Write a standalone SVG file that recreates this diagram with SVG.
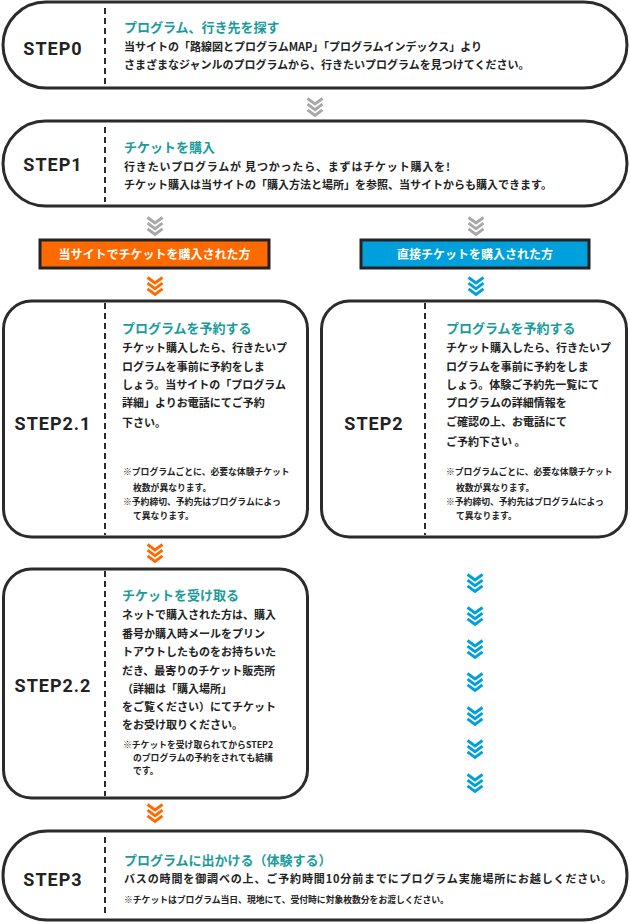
<svg xmlns="http://www.w3.org/2000/svg" xmlns:xlink="http://www.w3.org/1999/xlink" width="630" height="923" viewBox="0 0 630 923">
<style>
.box{fill:#fff;stroke:#2b2b2b;stroke-width:3}
.dash{stroke:#2b2b2b;stroke-width:2;stroke-dasharray:6 4;fill:none}
.step{font-family:Roboto,"Noto Sans",sans-serif;font-weight:700;font-size:18px;letter-spacing:1px;fill:#222;text-anchor:middle}
.ttl{font-family:"Noto Sans CJK JP",sans-serif;font-weight:700;font-size:13px;fill:#1a9b9b}
.txt{font-family:"Noto Sans CJK JP",sans-serif;font-weight:700;font-size:11px;fill:#222}
.note{font-family:"Noto Sans CJK JP",sans-serif;font-weight:700;font-size:8.8px;fill:#222}
.lbl{font-family:"Noto Sans CJK JP",sans-serif;font-weight:700;font-size:12px;fill:#fff;text-anchor:middle}
.tag{stroke:#222;stroke-width:3}
</style>
<defs>
<symbol id="chev" viewBox="0 0 16 20" overflow="visible">
<g fill="none" stroke="currentColor" stroke-width="2.9" stroke-linejoin="miter">
<polyline points="0.5,1.5 8,7 15.5,1.5"/>
<polyline points="0.5,7.2 8,12.7 15.5,7.2"/>
<polyline points="0.5,12.9 8,18.4 15.5,12.9"/>
</g>
</symbol>
</defs>

<g id="step0">
<rect class="box" x="3" y="2" width="624" height="86" rx="43"/>
<line class="dash" x1="105" y1="8" x2="105" y2="84"/>
<text class="step" x="53" y="55">STEP0</text>
<text class="ttl" x="124" y="32">プログラム、行き先を探す</text>
<text class="txt" x="124" y="51">当サイトの「路線図とプログラムMAP」「プログラムインデックス」より</text>
<text class="txt" x="124" y="69">さまざまなジャンルのプログラムから、行きたいプログラムを見つけてください。</text>
</g>

<g id="step1">
<rect class="box" x="3" y="121" width="624" height="85" rx="42.5"/>
<line class="dash" x1="105" y1="127" x2="105" y2="202"/>
<text class="step" x="53" y="171">STEP1</text>
<text class="ttl" x="124" y="152">チケットを購入</text>
<text class="txt" x="124" y="171" textLength="326" lengthAdjust="spacing">行きたいプログラムが 見つかったら、まずはチケット購入を!</text>
<text class="txt" x="124" y="189">チケット購入は当サイトの「購入方法と場所」を参照、当サイトからも購入できます。</text>
</g>

<g id="label-site">
<rect class="tag" x="40" y="240" width="229" height="28" fill="#ff6a00"/>
<text class="lbl" x="154.5" y="258.5">当サイトでチケットを購入された方</text>
</g>

<g id="label-direct">
<rect class="tag" x="361" y="240" width="228" height="28" fill="#00a0dc"/>
<text class="lbl" x="475" y="258.5">直接チケットを購入された方</text>
</g>

<g id="step2-1">
<rect class="box" x="3.5" y="301" width="304" height="236" rx="28"/>
<line class="dash" x1="105" y1="303" x2="105" y2="535"/>
<text class="step" x="53" y="429.5">STEP2.1</text>
<text class="ttl" x="122" y="333">プログラムを予約する</text>
<text class="txt" x="122" y="352">チケット購入したら、行きたいプ</text>
<text class="txt" x="122" y="371">ログラムを事前に予約をしま</text>
<text class="txt" x="122" y="389">しょう。当サイトの「プログラム</text>
<text class="txt" x="122" y="407">詳細」よりお電話にてご予約</text>
<text class="txt" x="122" y="427">下さい。</text>
<text class="note" x="123" y="475">※プログラムごとに、必要な体験チケット</text>
<text class="note" x="133" y="491">枚数が異なります。</text>
<text class="note" x="123" y="505">※予約締切、予約先はプログラムによっ</text>
<text class="note" x="133" y="519">て異なります。</text>
</g>

<g id="step2">
<rect class="box" x="321.5" y="301" width="305" height="236" rx="28"/>
<line class="dash" x1="425" y1="303" x2="425" y2="535"/>
<text class="step" x="374" y="429.5">STEP2</text>
<text class="ttl" x="446" y="333">プログラムを予約する</text>
<text class="txt" x="446" y="352">チケット購入したら、行きたいプ</text>
<text class="txt" x="446" y="371">ログラムを事前に予約をしま</text>
<text class="txt" x="446" y="389">しょう。体験ご予約先一覧にて</text>
<text class="txt" x="446" y="407">プログラムの詳細情報を</text>
<text class="txt" x="446" y="426">ご確認の上、お電話にて</text>
<text class="txt" x="446" y="446">ご予約下さい 。</text>
<text class="note" x="446" y="475">※プログラムごとに、必要な体験チケット</text>
<text class="note" x="456" y="491">枚数が異なります。</text>
<text class="note" x="446" y="505">※予約締切、予約先はプログラムによっ</text>
<text class="note" x="456" y="519">て異なります。</text>
</g>

<g id="step2-2">
<rect class="box" x="3.5" y="569" width="304" height="229" rx="28"/>
<line class="dash" x1="105" y1="571" x2="105" y2="796"/>
<text class="step" x="53" y="691.5">STEP2.2</text>
<text class="ttl" x="122" y="600">チケットを受け取る</text>
<text class="txt" x="122" y="619">ネットで購入された方は、購入</text>
<text class="txt" x="122" y="638">番号か購入時メールをプリン</text>
<text class="txt" x="122" y="656">トアウトしたものをお持ちいた</text>
<text class="txt" x="122" y="675">だき、最寄りのチケット販売所</text>
<text class="txt" x="122" y="693">（詳細は「購入場所」</text>
<text class="txt" x="122" y="711">をご覧ください）にてチケット</text>
<text class="txt" x="122" y="729">をお受け取りください。</text>
<text class="note" x="123" y="748">※チケットを受け取られてからSTEP2</text>
<text class="note" x="133" y="761">のプログラムの予約をされても結構</text>
<text class="note" x="133" y="774">です。</text>
</g>

<g id="step3">
<rect class="box" x="3" y="831" width="624" height="89" rx="44.5"/>
<line class="dash" x1="105" y1="837" x2="105" y2="916"/>
<text class="step" x="53" y="885.5">STEP3</text>
<text class="ttl" x="124" y="865">プログラムに出かける（体験する）</text>
<text class="txt" x="124" y="883" textLength="488" lengthAdjust="spacing">バスの時間を御調べの上、ご予約時間10分前までにプログラム実施場所にお越しください。</text>
<text class="note" x="124" y="903">※チケットはプログラム当日、現地にて、受付時に対象枚数分をお渡しください。</text>
</g>

<g id="connectors">
<use xlink:href="#chev" x="307" y="97" width="16" height="20" color="#a8a8a8"/>
<use xlink:href="#chev" x="147" y="216" width="16" height="20" color="#a8a8a8"/>
<use xlink:href="#chev" x="468" y="216" width="16" height="20" color="#a8a8a8"/>
<use xlink:href="#chev" x="147" y="276" width="16" height="20" color="#ff6a00"/>
<use xlink:href="#chev" x="468" y="276" width="16" height="20" color="#00a0dc"/>
<use xlink:href="#chev" x="147" y="543" width="16" height="20" color="#ff6a00"/>
<use xlink:href="#chev" x="467" y="573" width="16" height="20" color="#00a0dc"/>
<use xlink:href="#chev" x="467" y="606" width="16" height="20" color="#00a0dc"/>
<use xlink:href="#chev" x="467" y="639" width="16" height="20" color="#00a0dc"/>
<use xlink:href="#chev" x="467" y="672" width="16" height="20" color="#00a0dc"/>
<use xlink:href="#chev" x="467" y="706" width="16" height="20" color="#00a0dc"/>
<use xlink:href="#chev" x="467" y="739" width="16" height="20" color="#00a0dc"/>
<use xlink:href="#chev" x="467" y="773" width="16" height="20" color="#00a0dc"/>
<use xlink:href="#chev" x="147" y="803" width="16" height="20" color="#ff6a00"/>
</g>
</svg>
